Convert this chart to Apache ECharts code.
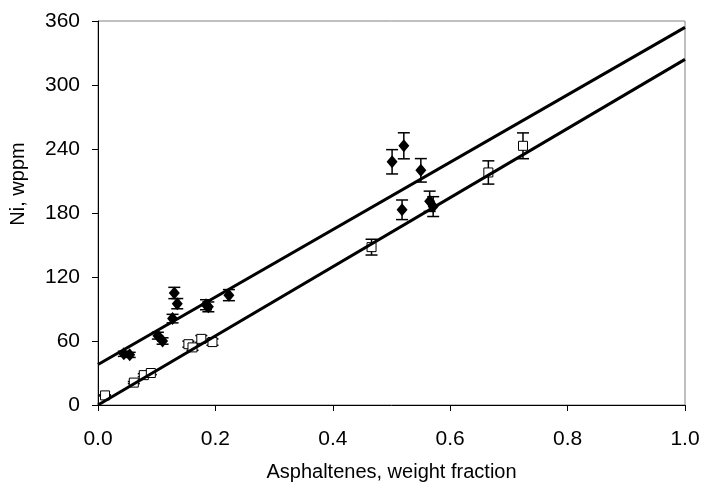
<!DOCTYPE html>
<html>
<head>
<meta charset="utf-8">
<script src="https://cdn.jsdelivr.net/npm/echarts@6/dist/echarts.min.js"></script>
<style>html,body{margin:0;padding:0;background:#fff}#c{width:703px;height:489px}</style>
</head>
<body>
<div id="c"></div>
<script>
// Filled diamonds
const diamondX = [0.044, 0.054, 0.102, 0.110, 0.127, 0.130, 0.135, 0.184, 0.188, 0.223, 0.501, 0.521, 0.550, 0.518, 0.565, 0.571];
const diamondY = [48, 47, 65, 60, 81, 105, 95, 94, 92, 103, 228, 243, 220, 183, 191, 186];
const diamondErr = [2.4, 2.4, 3.2, 3.0, 4.0, 5.3, 4.8, 4.7, 4.6, 5.2, 11.4, 12.2, 11.0, 9.2, 9.5, 9.3];
// Open squares
const squareX = [0.012, 0.061, 0.078, 0.090, 0.154, 0.161, 0.176, 0.195, 0.466, 0.665, 0.724];
const squareY = [9, 21, 28, 30, 57, 54, 62, 59, 148, 218, 243];
const squareErr = [0.5, 1.0, 1.4, 1.5, 2.8, 2.7, 3.1, 3.0, 7.4, 10.9, 12.1];
// Fit lines
const fitX = [0, 1];
const upperFitY = [38, 354];
const lowerFitY = [0, 324];
// Axes
const xTicks = [0, 0.2, 0.4, 0.6, 0.8, 1.0];
const yTicks = [0, 60, 120, 180, 240, 300, 360];

const FONT = 'Liberation Sans, Arial, sans-serif';

function errData(xs, ys, es) {
  return xs.map((x, i) => [x, ys[i] - es[i], ys[i] + es[i]]);
}
function errRender(params, api) {
  const x = api.value(0);
  const lo = api.coord([x, api.value(1)]);
  const hi = api.coord([x, api.value(2)]);
  const half = 6;
  const st = { stroke: '#000', lineWidth: 1.5 };
  return {
    type: 'group',
    children: [
      { type: 'line', shape: { x1: lo[0], y1: lo[1], x2: hi[0], y2: hi[1] }, style: st },
      { type: 'line', shape: { x1: lo[0] - half, y1: lo[1], x2: lo[0] + half, y2: lo[1] }, style: st },
      { type: 'line', shape: { x1: hi[0] - half, y1: hi[1], x2: hi[0] + half, y2: hi[1] }, style: st }
    ]
  };
}

const chart = echarts.init(document.getElementById('c'), null, { renderer: 'canvas' });
chart.setOption({
  animation: false,
  backgroundColor: '#fff',
  grid: { left: 97, right: 18, top: 21, bottom: 84, show: true, borderColor: '#808080', borderWidth: 1, backgroundColor: '#fff' },
  xAxis: {
    type: 'value', min: xTicks[0], max: xTicks[xTicks.length - 1], interval: 0.2,
    name: 'Asphaltenes, weight fraction', nameLocation: 'middle', nameGap: 57,
    nameTextStyle: { fontFamily: FONT, fontSize: 20, color: '#000' },
    axisLine: { onZero: false, lineStyle: { color: '#000', width: 1 } },
    axisTick: { show: true, inside: false, length: 6, lineStyle: { color: '#000' } },
    axisLabel: { fontFamily: FONT, fontSize: 21, color: '#000', margin: 24, formatter: v => v.toFixed(1) },
    splitLine: { show: false }
  },
  yAxis: {
    type: 'value', min: yTicks[0], max: yTicks[yTicks.length - 1], interval: 60,
    name: 'Ni, wppm', nameLocation: 'middle', nameGap: 70,
    nameTextStyle: { fontFamily: FONT, fontSize: 20, color: '#000', padding: [0, 0, 0, 58] },
    axisLine: { onZero: false, lineStyle: { color: '#000', width: 1 } },
    axisTick: { show: true, inside: false, length: 6, lineStyle: { color: '#000' } },
    axisLabel: { fontFamily: FONT, fontSize: 21, color: '#000', margin: 18 },
    splitLine: { show: false }
  },
  series: [
    { type: 'custom', renderItem: errRender, data: errData(diamondX, diamondY, diamondErr), encode: { x: 0, y: [1, 2] }, z: 2, silent: true },
    { type: 'custom', renderItem: errRender, data: errData(squareX, squareY, squareErr), encode: { x: 0, y: [1, 2] }, z: 2, silent: true },
    { type: 'scatter', data: diamondX.map((x, i) => [x, diamondY[i]]), symbol: 'diamond', symbolSize: [11, 13], itemStyle: { color: '#000', opacity: 1 }, z: 3 },
    { type: 'scatter', data: squareX.map((x, i) => [x, squareY[i]]), symbol: 'rect', symbolSize: 9, itemStyle: { color: '#fff', borderColor: '#000', borderWidth: 1, opacity: 1 }, z: 3 },
    { type: 'line', data: fitX.map((x, i) => [x, upperFitY[i]]), showSymbol: false, lineStyle: { color: '#000', width: 3 }, z: 4 },
    { type: 'line', data: fitX.map((x, i) => [x, lowerFitY[i]]), showSymbol: false, lineStyle: { color: '#000', width: 3 }, z: 4 }
  ]
});
</script>
</body>
</html>
